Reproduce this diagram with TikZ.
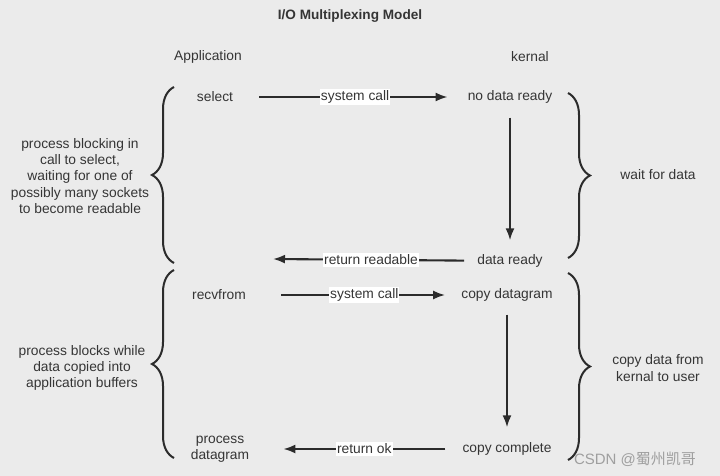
\documentclass[tikz,border=0pt]{standalone}
\usepackage{fontspec}
\setmainfont{Liberation Sans}
\newfontfamily\cjk{Noto Sans CJK SC}
\usetikzlibrary{arrows.meta,decorations.pathreplacing}
\definecolor{bg}{HTML}{EBEBEB}
\definecolor{ink}{HTML}{353535}
\definecolor{wire}{HTML}{2B2B2B}

\begin{document}
\begin{tikzpicture}[x=1pt,y=-1pt]
    \tikzstyle{every node}=[inner sep=0pt, text=ink, align=center, font=\fontsize{13.8}{16.3}\selectfont]
    \tikzstyle{flow}=[draw=wire, line width=2.1pt, -{Latex[length=12pt,width=9pt]}]
    \tikzstyle{tag}=[fill=white, inner xsep=1pt, inner ysep=2pt]
    \tikzstyle{brace}=[draw=wire, line width=2pt, decorate, decoration={brace, amplitude=22pt}]
    \fill[bg] (0,0) rectangle (720,476);
    \useasboundingbox (0,0) rectangle (720,476);
    \draw (350,16) node[font=\fontsize{13.6}{16}\selectfont\bfseries] (title) {I/O Multiplexing Model};
    \draw (208,57) node (app) {Application};
    \draw (530,57) node (kern) {kernal};
    \draw (215,97) node (select) {select};
    \draw (510,97) node (nodata) {no data ready};
    \draw (510,261) node (ready) {data ready};
    \draw (273,259) coordinate (readable);
    \draw (219,295) node (recv) {recvfrom};
    \draw (507,295) node (copydg) {copy datagram};
    \draw (507,449) node (copycpl) {copy complete};
    \draw (220,449) node (procdg) {process\\datagram};
    \draw[flow, shorten <=26pt, shorten >=20pt] (select) -- node[tag, pos=0.52] {system call} (nodata);
    \draw[flow, shorten <=14pt, shorten >=14pt] (nodata) -- (ready);
    \draw[flow, shorten <=13pt] (ready) -- node[tag, pos=0.52] {return readable} (readable);
    \draw[flow, shorten <=35pt, shorten >=16pt] (recv) -- node[tag, pos=0.55] {system call} (copydg);
    \draw[flow, shorten <=13pt, shorten >=15pt] (copydg) -- (copycpl);
    \draw[flow, shorten <=17pt, shorten >=34pt] (copycpl) -- node[tag, pos=0.46] {return ok} (procdg);
    % braces
    \draw[brace] (174,263) -- (174,87);
    \draw[brace] (174,458) -- (174,270);
    \draw[brace] (568,93) -- (568,258);
    \draw[brace] (568,273) -- (568,460);
    \draw (80,176) node (waitapp) {process blocking in\\call to select,\\waiting for one of\\possibly many sockets\\to become readable};
    \draw (82,368) node (copyapp) {process blocks while\\data copied into\\application buffers};
    \draw (658,175) node (waitk) {wait for data};
    \draw (658,368) node (copyk) {copy data from\\kernal to user};
    \draw (635,459) node[font=\fontsize{15}{17}\selectfont, text=gray!75] (mark) {CSDN @{\cjk 蜀州凯哥}};
\end{tikzpicture}
\end{document}
